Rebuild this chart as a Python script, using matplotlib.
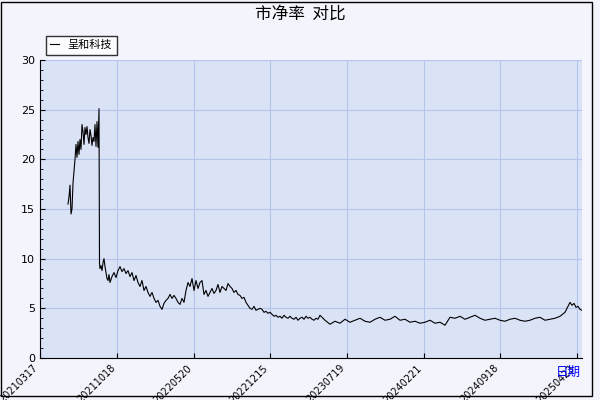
import matplotlib
matplotlib.use("Agg")
import matplotlib.pyplot as plt
from matplotlib.font_manager import FontProperties

cjk = "Noto Sans CJK SC"
tick_labels = ["20210317", "20211018", "20220520", "20221215", "20230719", "20240221", "20240918", "20250423"]
tick_pos = [0, 77, 154, 230, 307, 384, 460, 537]

xs = [28, 29, 30, 31, 32, 33, 34, 35, 36, 37, 38, 39, 40, 41, 42, 43, 44, 45, 46, 47, 48, 49, 50, 51, 52, 53, 54, 55, 56, 57, 58, 59, 59.5,
      60, 61, 62, 63, 64, 65, 66, 67, 68, 69, 70, 72, 74, 76, 78, 80, 82, 84, 86, 88, 90, 92, 94, 96, 98, 100, 102, 104, 106, 108, 110,
      112, 114, 116, 118, 120, 122, 124, 126, 128, 130, 132, 134, 136, 138, 140, 142, 144, 146, 148, 150, 152, 154, 156, 158, 160, 162, 164,
      166, 168, 170, 172, 174, 176, 178, 180, 182, 184, 186, 188, 190, 192, 194, 196, 198, 200, 202, 204, 206, 208, 210, 212, 214, 216, 218,
      220, 222, 224, 226, 228, 230, 232, 234, 236, 238, 240, 242, 244, 246, 248, 250, 252, 254, 256, 258, 260, 262, 264, 266, 268, 270,
      272, 274, 276, 278, 280, 282, 285, 290, 295, 300, 305, 310, 315, 320, 325, 330, 335, 340, 345, 350, 355, 360, 365, 370, 375, 380,
      385, 390, 395, 400, 405, 410, 415, 420, 425, 430, 435, 440, 445, 450, 455, 460, 465, 470, 475, 480, 485, 490, 495, 500, 505, 510,
      515, 520, 525, 528, 530, 532, 534, 536, 538, 540, 542]
vals = [15.5, 16.2, 17.4, 14.5, 15.0, 17.6, 18.8, 20.0, 21.5, 20.2, 21.8, 20.5, 22.0, 21.0, 23.5, 22.8, 21.5, 23.2, 22.5, 23.3, 22.2, 21.6, 23.0, 22.4, 21.4, 22.2, 21.8, 23.5, 21.3, 23.8, 21.2, 25.1, 9.5,
      9.0, 9.3, 8.8, 9.6, 10.0, 9.2, 8.6, 8.0, 7.8, 8.4, 7.6, 8.2, 8.6, 8.1, 8.8, 9.2, 8.7, 9.0, 8.5, 8.8, 8.2, 8.6, 7.8, 8.3, 7.6, 7.2, 7.8, 6.8, 7.2, 6.6, 6.2,
      6.6, 6.0, 5.6, 5.8, 5.2, 4.9, 5.5, 5.8, 6.0, 6.4, 6.0, 6.3, 6.0, 5.6, 5.4, 6.0, 5.6, 6.8, 7.6, 7.2, 8.0, 6.8, 7.8, 7.0, 7.6, 7.8, 6.4, 6.8,
      6.2, 6.6, 7.0, 6.5, 6.8, 7.4, 6.6, 7.2, 7.0, 6.8, 7.5, 7.2, 7.0, 6.6, 6.8, 6.4, 6.3, 6.0, 6.1, 5.6, 5.3, 5.0, 4.9, 5.2, 4.8, 4.9, 5.0,
      4.9, 4.6, 4.7, 4.5, 4.6, 4.4, 4.2, 4.3, 4.1, 4.2, 4.0, 4.3, 4.1, 4.0, 4.2, 4.0, 3.9, 4.1, 3.8, 4.0, 4.1, 3.9, 4.2, 4.0, 4.1, 3.9,
      3.8, 4.0, 3.9, 4.3, 4.1, 3.8, 3.4, 3.7, 3.5, 3.9, 3.6, 3.8, 4.0, 3.7, 3.6, 3.9, 4.1, 3.8, 3.9, 4.2, 3.8, 3.9, 3.6, 3.7, 3.5, 3.6,
      3.8, 3.5, 3.6, 3.3, 4.1, 4.0, 4.2, 3.9, 4.1, 4.3, 4.0, 3.8, 3.9, 4.0, 3.8, 3.7, 3.9, 4.0, 3.8, 3.7, 3.8, 4.0, 4.1, 3.8,
      3.9, 4.0, 4.2, 4.6, 5.2, 5.6, 5.3, 5.5, 5.1, 5.2, 4.9, 4.8]

fig = plt.figure(figsize=(6, 4), dpi=100)
fig.patch.set_facecolor("#f4f4fc")
ax = fig.add_axes([40/600, 42/400, 542/600, 298/400])
ax.set_facecolor("#dae2f6")
ax.plot(xs, vals, color="black", lw=0.8, label="呈和科技")
ax.set_xlim(0, 542)
ax.set_ylim(0, 30)
ax.set_yticks(range(0, 31, 5))
ax.set_yticks(range(0, 31, 1), minor=True)
ax.set_xticks(tick_pos)
ax.set_xticklabels(tick_labels, rotation=45, ha="right", fontsize=7)
ax.tick_params(axis="y", labelsize=8, which="both", direction="in")
ax.tick_params(axis="x", direction="in")
ax.grid(True, color="#b4c4ec", lw=0.8)
for s in ["top", "right"]:
    ax.spines[s].set_visible(False)
fig.text(0.5, 0.965, "市净率  对比", ha="center", va="center", fontsize=12, fontfamily=cjk)
leg = ax.legend(loc="upper left", bbox_to_anchor=(0, 1.1), prop=FontProperties(family=cjk, size=8),
                handlelength=0.8, frameon=True, fancybox=False, edgecolor="black")
leg.get_frame().set_facecolor("white")
fig.text(0.968, 0.06, "日期", color="blue", fontsize=9, fontfamily=cjk, ha="right")
border = plt.Rectangle((0.002, 0.01), 0.985, 0.985, transform=fig.transFigure, fill=False, ec="black", lw=1)
fig.patches.append(border)
fig.savefig("out.png")
